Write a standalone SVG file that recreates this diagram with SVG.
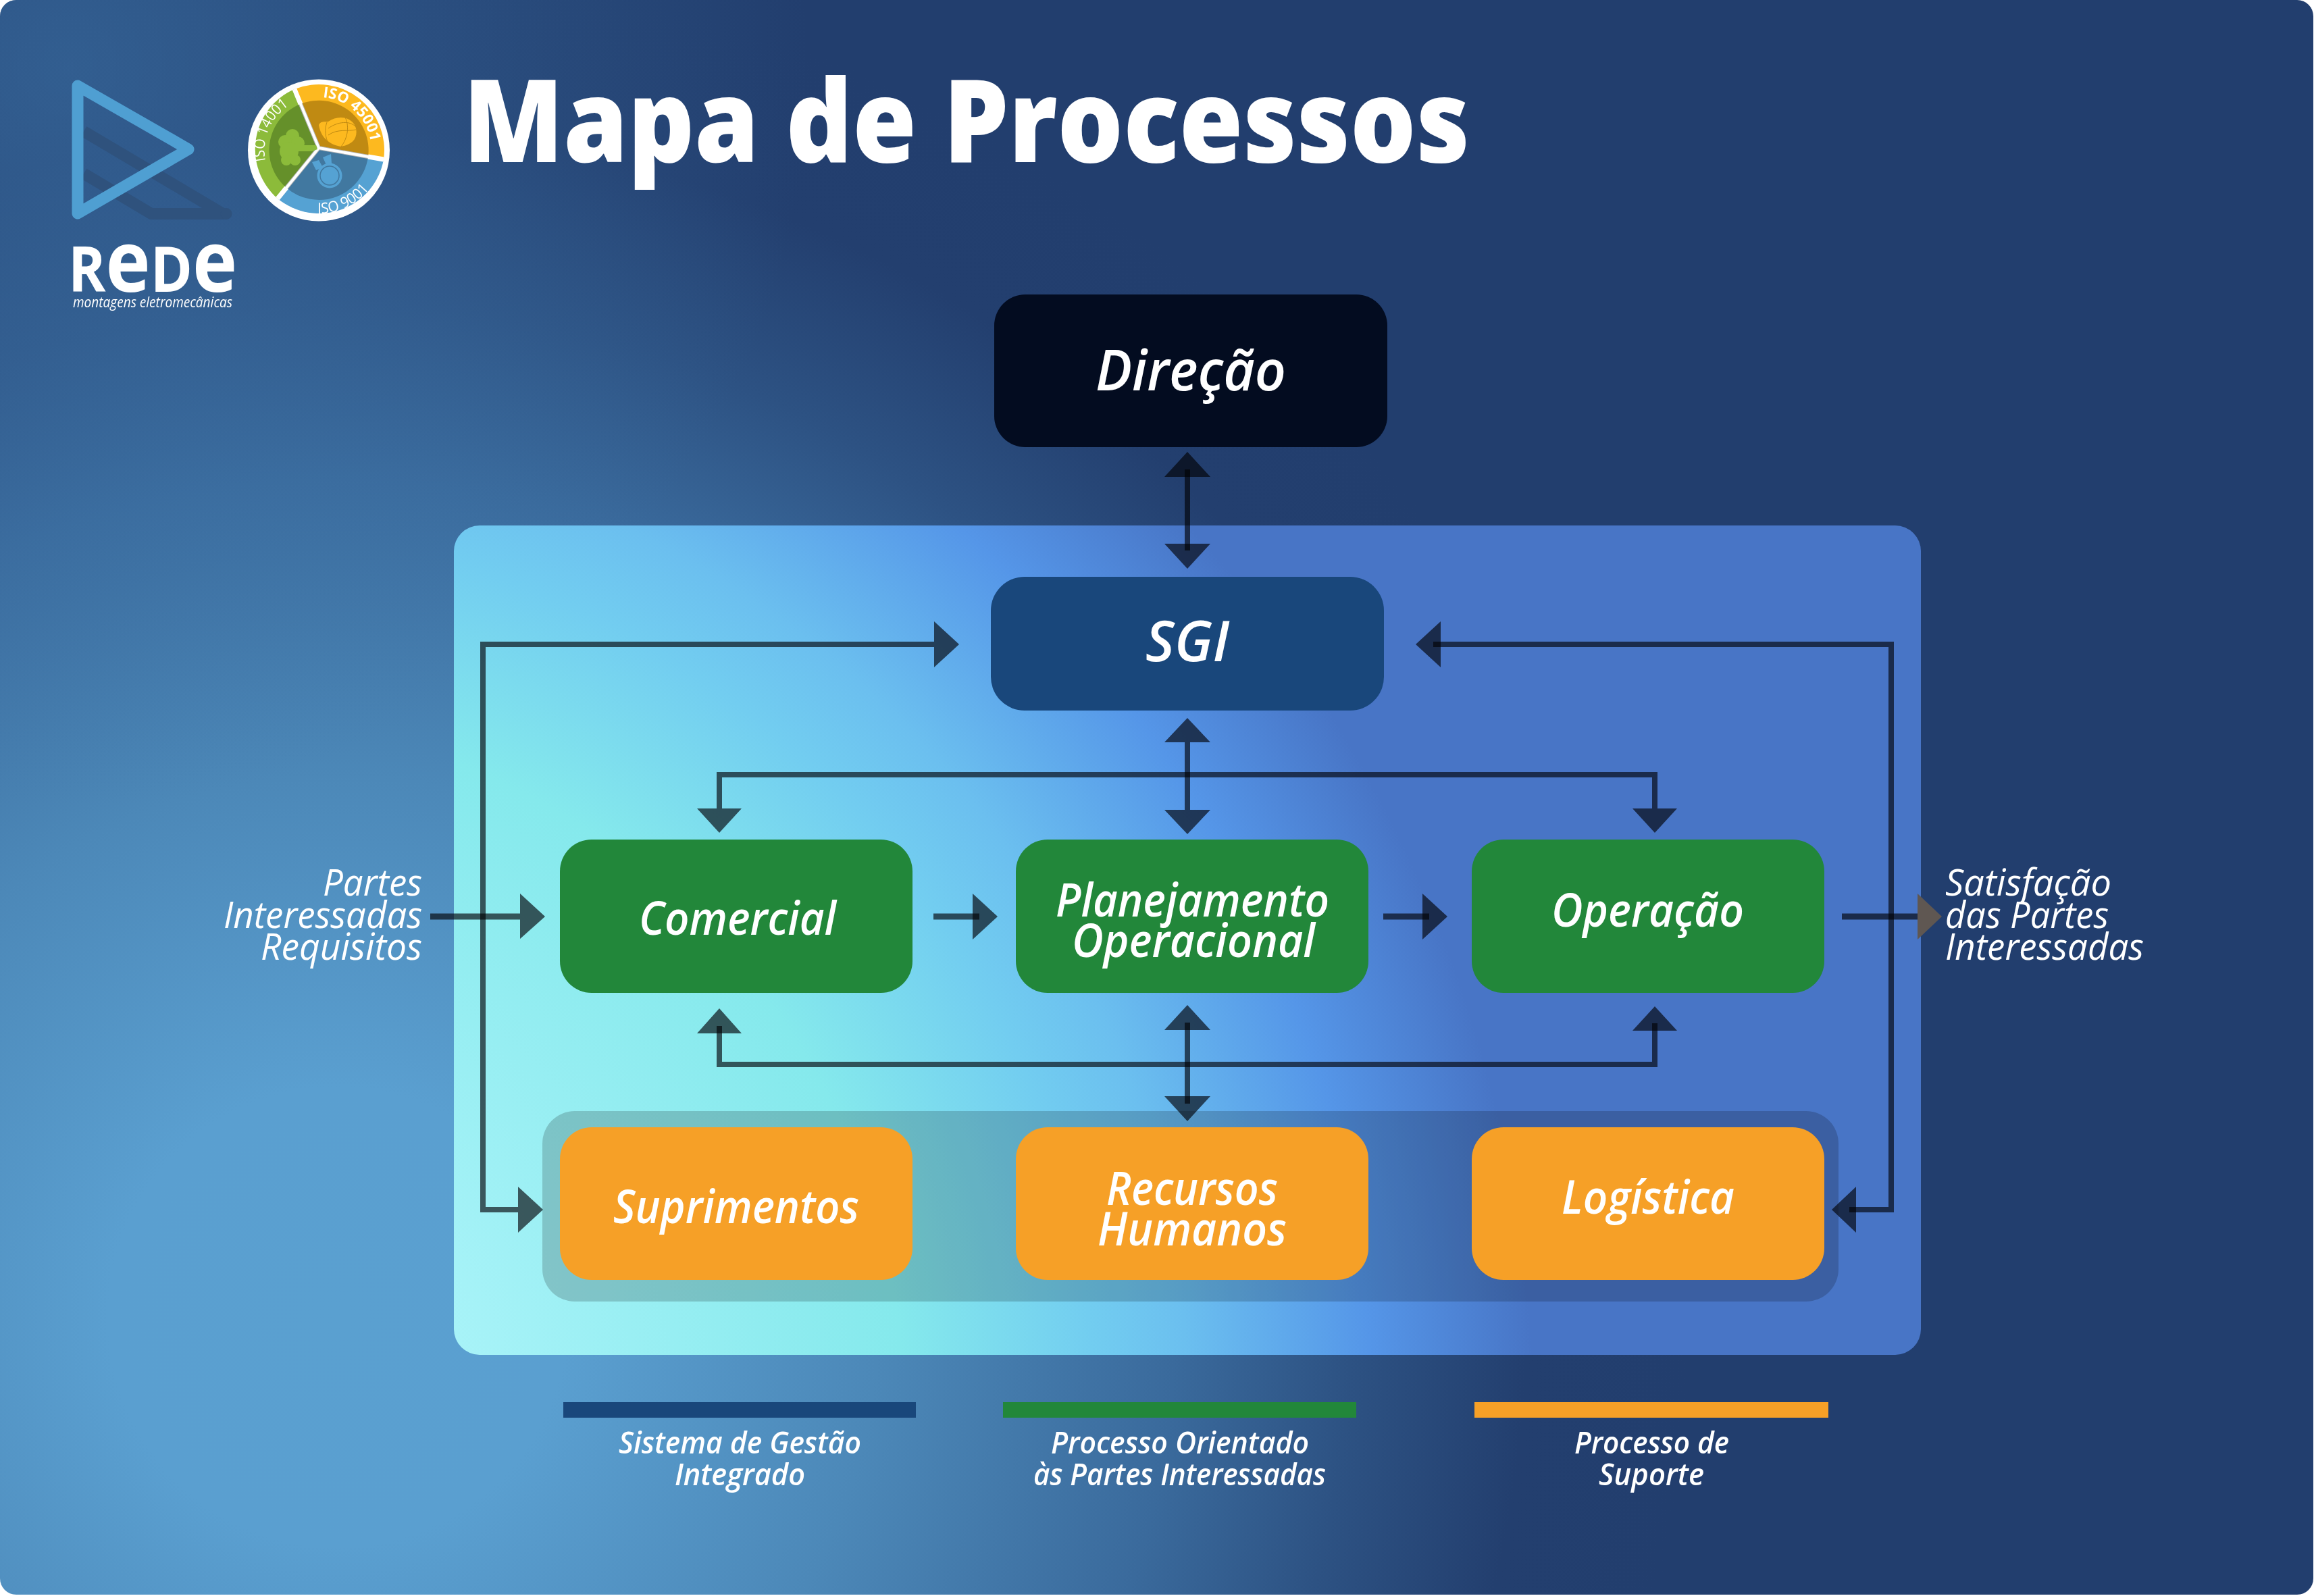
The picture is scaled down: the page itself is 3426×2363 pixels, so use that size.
<svg xmlns="http://www.w3.org/2000/svg" width="3426" height="2363" viewBox="0 0 3426 2363">
<style>
text{font-family:"Open Sans","Noto Sans","Liberation Sans",sans-serif;fill:#fff}
.n{font-style:italic;font-weight:600;font-size:68px}
.s{font-style:italic;font-weight:400;font-size:55px}
.l{font-style:italic;font-weight:600;font-size:45px}
.b{font-size:22px}
.c path{mix-blend-mode:multiply}
.w{fill:none;stroke:#5c5c60;stroke-width:8}
.h{fill:#5c5c60}
</style>
<defs>
<radialGradient id="bg" gradientUnits="userSpaceOnUse" cx="500" cy="1950" r="2000">
<stop offset="0" stop-color="#5aa0d0"/><stop offset=".17" stop-color="#5a9fd0"/><stop offset=".4" stop-color="#4c88b8"/><stop offset=".62" stop-color="#3a6a9c"/><stop offset=".75" stop-color="#2d5283"/><stop offset=".88" stop-color="#233f6f"/><stop offset="1" stop-color="#223e6e"/>
</radialGradient>
<radialGradient id="tl" gradientUnits="userSpaceOnUse" cx="100" cy="100" r="1100">
<stop offset="0" stop-color="#3f78ac" stop-opacity=".55"/><stop offset="1" stop-color="#3f78ac" stop-opacity="0"/>
</radialGradient>
<radialGradient id="pn" gradientUnits="userSpaceOnUse" cx="300" cy="2100" r="2000">
<stop offset=".19" stop-color="#a8f3f8"/><stop offset=".52" stop-color="#85e9ec"/><stop offset=".66" stop-color="#72cdf0"/><stop offset=".73" stop-color="#6bbfef"/><stop offset=".865" stop-color="#5596e8"/><stop offset=".985" stop-color="#4875c6"/>
</radialGradient>
<clipPath id="pg"><rect width="3425" height="2361" rx="24"/></clipPath>
<path id="a14" d="M393 238A79 79 0 0 1 445 148"/>
<path id="a45" d="M478 144A78 78 0 0 1 550 222"/>
<path id="a90" d="M470 316A94 94 0 0 0 562 250"/>
</defs>
<rect width="3426" height="2363" fill="#fff"/>
<g clip-path="url(#pg)"><rect width="3425" height="2361" fill="url(#bg)"/><rect width="1300" height="1300" fill="url(#tl)"/></g>
<rect id="panel" x="672" y="778" width="2172" height="1228" rx="38" fill="url(#pn)"/>
<rect id="support-band" x="803" y="1645" width="1919" height="282" rx="48" fill="#000" fill-opacity=".18"/>
<text x="686" y="240" font-size="170" font-weight="800" textLength="1490" lengthAdjust="spacingAndGlyphs">Mapa de Processos</text>
<g id="logo">
<path d="M124 194.500L330 316.500H224L124 257" fill="none" stroke="#2f527d" stroke-width="17" stroke-linejoin="round"/>
<circle cx="335" cy="316.500" r="8.500" fill="#2f527d"/>
<path d="M115 127L279 221L115 316Z" fill="none" stroke="#4f9fd2" stroke-width="17" stroke-linejoin="round"/>
<text x="101" y="432" font-weight="700" font-size="94" textLength="250" lengthAdjust="spacingAndGlyphs">R<tspan font-size="125">e</tspan>D<tspan font-size="125">e</tspan></text>
<text x="108" y="455" font-style="italic" font-size="21" textLength="236" lengthAdjust="spacingAndGlyphs">montagens eletromecânicas</text>
</g>
<g id="badge">
<circle cx="472" cy="222.500" r="105" fill="#fff"/>
<path d="M472 219L436 132A97 97 0 0 1 568 236Z" fill="#fdb91f"/>
<path d="M472 219L568 236A97 97 0 0 1 411 294Z" fill="#55a2d3"/>
<path d="M472 219L411 294A97 97 0 0 1 436 132Z" fill="#8cbb3a"/>
<path d="M472 219L445 154A73.500 73.500 0 0 1 545 232Z" fill="#c08a12"/>
<path d="M472 219L545 232A73.500 73.500 0 0 1 424 278Z" fill="#4178a0"/>
<path d="M472 219L424 278A73.500 73.500 0 0 1 445 154Z" fill="#65902a"/>
<path d="M472 219L445 154M472 219L545 232M472 219L424 278" stroke="#b4b4b4" stroke-width="6" fill="none"/>
<path d="M472 219L436 132M472 219L568 236M472 219L411 294" stroke="#fff" stroke-width="4" fill="none"/>
<path d="M436 132L445 154M568 236L545 232M411 294L424 278" stroke="#fff" stroke-width="7" fill="none"/>
<g fill="#8cbb3a"><circle cx="433" cy="201" r="10"/><circle cx="422" cy="210" r="10"/><circle cx="441" cy="212" r="10"/><circle cx="428" cy="224" r="14"/><circle cx="424" cy="237" r="8"/><circle cx="437" cy="237" r="8"/><path d="M436 215H468L470 221L462 224H436Z"/></g>
<path d="M472 185C475 178 482 181 486 180C500 170 522 172 527 190C530 205 522 214 505 217C490 215 475 205 472 185Z" fill="#fdb91f"/>
<path d="M484 181C480 192 482 204 486 212M486 190C500 180 518 178 527 188M486 200C500 190 515 195 527 192M510 172C518 185 515 205 505 217" fill="none" stroke="#c08a12" stroke-width="1"/>
<path d="M462 240L472 237L478 248L468 252ZM478 233L490 228L491 242L483 244Z" fill="#55a2d3"/>
<circle cx="488" cy="260" r="18.500" fill="#55a2d3"/><circle cx="488" cy="260" r="14" fill="none" stroke="#4178a0" stroke-width="1.500"/>
<text class="b"><textPath href="#a14" textLength="94" lengthAdjust="spacingAndGlyphs">ISO 14001</textPath></text>
<text class="b" font-weight="700"><textPath href="#a45" textLength="104" lengthAdjust="spacingAndGlyphs">ISO 45001</textPath></text>
<text class="b"><textPath href="#a90" textLength="88" lengthAdjust="spacingAndGlyphs">ISO 9001</textPath></text>
</g>
<g id="connectors" class="c">
<path class="w" d="M1758 695V815"/>
<path class="h" d="M1758 669L1792 706H1724ZM1758 842L1792 805H1724Z"/>
<path class="w" d="M1383 954H715V1791H767"/>
<path class="h" d="M1420 954L1383 920V988ZM804 1791L767 1757V1825Z"/>
<path class="w" d="M2122 954H2800V1791H2738"/>
<path class="h" d="M2096 954L2133 920V988ZM2712 1791L2748 1757V1825Z"/>
<path class="w" d="M1758 1099V1199"/>
<path class="h" d="M1758 1063L1792 1099H1724ZM1758 1235L1792 1199H1724Z"/>
<path class="w" d="M1065 1197V1147H2450V1197"/>
<path class="h" d="M1065 1233L1098 1197H1032ZM2450 1233L2483 1197H2417Z"/>
<path class="w" d="M1758 1514V1634"/>
<path class="h" d="M1758 1488L1792 1525H1724ZM1758 1660L1792 1623H1724Z"/>
<path class="w" d="M1065 1519V1576H2450V1515"/>
<path class="h" d="M1065 1493L1098 1530H1032ZM2450 1490L2483 1526H2417Z"/>
<path class="w" style="stroke-width:9" d="M637 1357H770"/>
<path class="h" d="M807 1357L770 1323V1390Z"/>
<path class="w" style="stroke-width:9" d="M1382 1357H1450"/>
<path class="h" d="M1477 1357L1440 1323V1391Z"/>
<path class="w" style="stroke-width:9" d="M2048 1357H2116"/>
<path class="h" d="M2143 1357L2106 1323V1391Z"/>
<path class="w" style="stroke-width:9" d="M2727 1357H2839"/>
</g>
<path id="output-head" d="M2875 1357L2839 1323V1391Z" fill="#5f5752"/>
<g id="direcao"><rect x="1472" y="436" width="582" height="226" rx="46" fill="#030c20"/><text class="n" style="font-size:84px" x="1622" y="578" textLength="282" lengthAdjust="spacingAndGlyphs">Direção</text></g>
<g id="sgi"><rect x="1467" y="854" width="582" height="198" rx="50" fill="#19477b"/><text class="n" style="font-size:84px" x="1696" y="979" textLength="124" lengthAdjust="spacingAndGlyphs">SGI</text></g>
<g id="comercial"><rect x="829" y="1243" width="522" height="227" rx="47" fill="#22873a"/><text class="n" x="946" y="1384" textLength="292" lengthAdjust="spacingAndGlyphs">Comercial</text></g>
<g id="planejamento"><rect x="1504" y="1243" width="522" height="227" rx="47" fill="#22873a"/><text class="n" x="1563" y="1357" textLength="405" lengthAdjust="spacingAndGlyphs">Planejamento</text><text class="n" x="1587" y="1417" textLength="360" lengthAdjust="spacingAndGlyphs">Operacional</text></g>
<g id="operacao"><rect x="2179" y="1243" width="522" height="227" rx="47" fill="#22873a"/><text class="n" x="2297" y="1372" textLength="285" lengthAdjust="spacingAndGlyphs">Operação</text></g>
<g id="suprimentos"><rect x="829" y="1669" width="522" height="226" rx="47" fill="#f6a027"/><text class="n" x="908" y="1811" textLength="364" lengthAdjust="spacingAndGlyphs">Suprimentos</text></g>
<g id="recursos"><rect x="1504" y="1669" width="522" height="226" rx="47" fill="#f6a027"/><text class="n" x="1638" y="1784" textLength="254" lengthAdjust="spacingAndGlyphs">Recursos</text><text class="n" x="1625" y="1844" textLength="280" lengthAdjust="spacingAndGlyphs">Humanos</text></g>
<g id="logistica"><rect x="2179" y="1669" width="522" height="226" rx="47" fill="#f6a027"/><text class="n" x="2312" y="1797" textLength="256" lengthAdjust="spacingAndGlyphs">Logística</text></g>
<g id="entrada"><text class="s" x="478" y="1326" textLength="147" lengthAdjust="spacingAndGlyphs">Partes</text><text class="s" x="331" y="1374" textLength="294" lengthAdjust="spacingAndGlyphs">Interessadas</text><text class="s" x="386" y="1421" textLength="239" lengthAdjust="spacingAndGlyphs">Requisitos</text></g>
<g id="saida"><text class="s" x="2880" y="1326" textLength="246" lengthAdjust="spacingAndGlyphs">Satisfação</text><text class="s" x="2880" y="1374" textLength="242" lengthAdjust="spacingAndGlyphs">das Partes</text><text class="s" x="2880" y="1421" textLength="294" lengthAdjust="spacingAndGlyphs">Interessadas</text></g>
<g id="legend">
<rect x="834" y="2076" width="522" height="23" fill="#19477b"/><rect x="1485" y="2076" width="523" height="23" fill="#22873a"/><rect x="2183" y="2076" width="524" height="23" fill="#f6a027"/>
<text class="l" x="916" y="2152" textLength="359" lengthAdjust="spacingAndGlyphs">Sistema de Gestão</text><text class="l" x="999" y="2199" textLength="193" lengthAdjust="spacingAndGlyphs">Integrado</text>
<text class="l" x="1556" y="2152" textLength="382" lengthAdjust="spacingAndGlyphs">Processo Orientado</text><text class="l" x="1530" y="2199" textLength="433" lengthAdjust="spacingAndGlyphs">às Partes Interessadas</text>
<text class="l" x="2331" y="2152" textLength="229" lengthAdjust="spacingAndGlyphs">Processo de</text><text class="l" x="2367" y="2199" textLength="156" lengthAdjust="spacingAndGlyphs">Suporte</text>
</g>
</svg>
